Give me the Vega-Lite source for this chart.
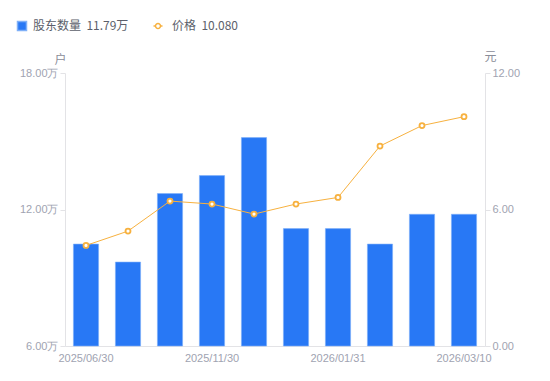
{
  "$schema": "https://vega.github.io/schema/vega-lite/v6.json",
  "width": 420,
  "height": 273,
  "autosize": "none",
  "padding": {"left": 65, "top": 73, "right": 65, "bottom": 35},
  "background": "white",
  "config": {
    "view": {"stroke": null},
    "font": "Noto Sans CJK SC",
    "axis": {"labelFont": "Liberation Sans", "labelColor": "#a0a3b1", "labelFontSize": 11, "domainColor": "#e3e3e6", "tickColor": "#e3e3e6", "grid": false},
    "legend": {"labelFont": "Noto Sans CJK SC", "labelFontSize": 12, "labelColor": "#5c5f6b", "title": null, "padding": 0}
  },
  "data": {
    "values": [
      {"date": "2025/06/30", "holders": 10.48, "price": 4.42},
      {"date": "2025/09/30", "holders": 9.69, "price": 5.05},
      {"date": "2025/10/31", "holders": 12.70, "price": 6.37},
      {"date": "2025/11/30", "holders": 13.49, "price": 6.24},
      {"date": "2025/12/10", "holders": 15.16, "price": 5.80},
      {"date": "2025/12/31", "holders": 11.16, "price": 6.24},
      {"date": "2026/01/31", "holders": 11.16, "price": 6.53},
      {"date": "2026/02/10", "holders": 10.48, "price": 8.79},
      {"date": "2026/02/28", "holders": 11.79, "price": 9.69},
      {"date": "2026/03/10", "holders": 11.79, "price": 10.08}
    ]
  },
  "encoding": {
    "x": {
      "field": "date", "type": "ordinal", "sort": null,
      "scale": {"paddingInner": 0.4, "paddingOuter": 0.2},
      "axis": {"title": null, "labelAngle": 0, "ticks": false, "labelPadding": 6,
               "values": ["2025/06/30", "2025/11/30", "2026/01/31", "2026/03/10"]}
    }
  },
  "layer": [
    {
      "mark": {"type": "bar", "stroke": "#7fb0f8", "strokeWidth": 0.6},
      "encoding": {
        "y": {
          "field": "holders", "type": "quantitative",
          "scale": {"domain": [6, 18], "nice": false, "zero": false},
          "axis": {"values": [6, 12, 18], "labelExpr": "format(datum.value, '.2f') + '万'",
                   "title": "户", "titleAngle": 0, "titleFont": "Noto Sans CJK SC", "titleFontWeight": "normal",
                   "titleColor": "#8a8d99", "titleFontSize": 12, "titleX": -5, "titleY": -7, "titleAlign": "center",
                   "tickSize": 5, "labelPadding": 2}
        },
        "y2": {"datum": 6},
        "color": {
          "datum": "股东数量", "type": "nominal",
          "scale": {"domain": ["股东数量"], "range": ["#2878f5"]},
          "legend": {
            "orient": "none", "legendX": -49, "legendY": -53,
            "symbolType": "square", "symbolSize": 81, "labelOffset": 5,
            "labelExpr": "'股东数量\u00a0\u00a011.79万'"
          }
        }
      }
    },
    {
      "encoding": {
        "y": {
          "field": "price", "type": "quantitative",
          "scale": {"domain": [0, 12], "nice": false},
          "axis": {"orient": "right", "values": [0, 6, 12], "format": ".2f",
                   "title": "元", "titleAngle": 0, "titleFont": "Noto Sans CJK SC", "titleFontWeight": "normal",
                   "titleColor": "#8a8d99", "titleFontSize": 12, "titleX": 5, "titleY": -10, "titleAlign": "center",
                   "tickSize": 5, "labelPadding": 2}
        }
      },
      "layer": [
        {
          "mark": {"type": "line", "strokeWidth": 1},
          "encoding": {
            "stroke": {
              "datum": "价格", "type": "nominal",
              "scale": {"domain": ["价格"], "range": ["#f7b13f"]},
              "legend": {
                "orient": "none", "legendX": 87, "legendY": -53,
                "symbolType": "M-1,0L-0.55,0M0.55,0L1,0M-0.55,0A0.55,0.55,0,1,0,0.55,0A0.55,0.55,0,1,0,-0.55,0Z",
                "symbolSize": 81, "symbolFillColor": "white", "symbolStrokeColor": "#f7b13f", "symbolStrokeWidth": 1.5,
                "labelOffset": 8,
                "labelExpr": "'价格\u00a0\u00a010.080'"
              }
            }
          }
        },
        {"mark": {"type": "point", "filled": true, "fill": "white", "stroke": "#f7b13f", "strokeWidth": 1.8, "size": 25, "opacity": 1}}
      ]
    }
  ],
  "resolve": {"scale": {"y": "independent"}}
}
